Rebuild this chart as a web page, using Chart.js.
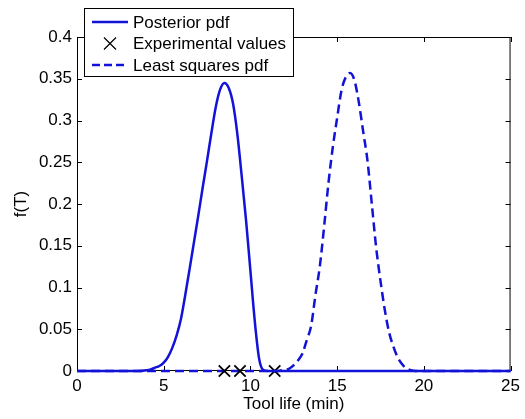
<!DOCTYPE html>
<html>
<head>
<meta charset="utf-8">
<script src="https://cdn.jsdelivr.net/npm/chart.js@4"></script>
<style>
html, body { margin: 0; padding: 0; background: #fff; }
#wrap { width: 525px; height: 419px; }
</style>
</head>
<body>
<div id="wrap"><canvas id="lifeChart"></canvas></div>
<script>
// posterior pdf (solid line)
const postX = [0, 1, 2, 3, 3.5, 4, 4.25, 4.5, 4.75, 5, 5.25, 5.5, 5.75, 6, 6.25, 6.5, 6.75, 7, 7.25, 7.5, 7.75, 8, 8.25, 8.5, 8.75, 9, 9.25, 9.5, 9.75, 10, 10.25, 10.5, 10.75, 11, 12, 15, 20, 25];
const postY = [0, 0, 0, 0, 0, 0.001, 0.002, 0.004, 0.006, 0.010, 0.017, 0.028, 0.043, 0.063, 0.092, 0.123, 0.155, 0.187, 0.220, 0.252, 0.285, 0.316, 0.337, 0.345, 0.339, 0.320, 0.283, 0.233, 0.180, 0.120, 0.060, 0.015, 0.001, 0, 0, 0, 0, 0];

// least squares pdf (dashed line)
const lsX = [0, 5, 10, 11.5, 11.75, 12, 12.25, 12.5, 12.75, 13, 13.25, 13.5, 13.75, 14, 14.25, 14.5, 14.75, 15, 15.25, 15.5, 15.75, 16, 16.25, 16.5, 16.75, 17, 17.25, 17.5, 17.75, 18, 18.25, 18.5, 18.75, 19, 19.25, 19.5, 20, 25];
const lsY = [0, 0, 0, 0, 0.0005, 0.001, 0.003, 0.007, 0.013, 0.021, 0.037, 0.054, 0.091, 0.125, 0.173, 0.225, 0.268, 0.303, 0.336, 0.352, 0.357, 0.348, 0.322, 0.287, 0.252, 0.200, 0.148, 0.108, 0.073, 0.046, 0.029, 0.016, 0.008, 0.003, 0.001, 0, 0, 0];

// experimental values (crosses on the axis)
const expX = [8.5, 9.4, 11.4];

const xTicks = [0, 5, 10, 15, 20, 25];
const yTicks = [0, 0.05, 0.1, 0.15, 0.2, 0.25, 0.3, 0.35, 0.4];

const lineBlue = '#1212d8';
const font = 'Liberation Sans, Arial, sans-serif';

const toPts = (xs, ys) => xs.map((x, i) => ({ x: x, y: ys[i] }));

// matlab style box with inward ticks
const frame = {
    id: 'frame',
    beforeDatasetsDraw(chart) {
        const ctx = chart.ctx;
        const a = chart.chartArea;
        const xs = chart.scales.x, ys = chart.scales.y;
        ctx.save();
        ctx.strokeStyle = '#000';
        ctx.lineWidth = 1;
        ctx.strokeRect(a.left + 0.5, a.top + 0.5, a.right - a.left - 1, a.bottom - a.top - 1);
        ctx.beginPath();
        xTicks.forEach(v => {
            const p = Math.round(xs.getPixelForValue(v)) + 0.5;
            ctx.moveTo(p, a.bottom); ctx.lineTo(p, a.bottom - 5);
            ctx.moveTo(p, a.top); ctx.lineTo(p, a.top + 5);
        });
        yTicks.forEach(v => {
            const p = Math.round(ys.getPixelForValue(v)) + 0.5;
            ctx.moveTo(a.left, p); ctx.lineTo(a.left + 5, p);
            ctx.moveTo(a.right, p); ctx.lineTo(a.right - 5, p);
        });
        ctx.stroke();
        ctx.restore();
    }
};

// boxed legend at top left
const boxLegend = {
    id: 'boxLegend',
    afterDraw(chart) {
        const ctx = chart.ctx;
        const left = 84, top = 8, w = 209, h = 68;
        const rows = [
            { label: 'Posterior pdf', kind: 'solid' },
            { label: 'Experimental values', kind: 'cross' },
            { label: 'Least squares pdf', kind: 'dash' }
        ];
        ctx.save();
        ctx.fillStyle = '#fff';
        ctx.fillRect(left, top, w, h);
        ctx.strokeStyle = '#000';
        ctx.lineWidth = 1;
        ctx.strokeRect(left + 0.5, top + 0.5, w, h);
        ctx.font = '17px ' + font;
        ctx.textBaseline = 'middle';
        rows.forEach((r, i) => {
            const y = top + 14 + i * 21.5;
            ctx.strokeStyle = r.kind === 'cross' ? '#000' : lineBlue;
            ctx.lineWidth = r.kind === 'cross' ? 1.2 : 2.5;
            ctx.beginPath();
            if (r.kind === 'cross') {
                const cx = 110, d = 6;
                ctx.moveTo(cx - d, y - d); ctx.lineTo(cx + d, y + d);
                ctx.moveTo(cx - d, y + d); ctx.lineTo(cx + d, y - d);
            } else {
                if (r.kind === 'dash') ctx.setLineDash([8, 4]);
                ctx.moveTo(92, y); ctx.lineTo(128, y);
            }
            ctx.stroke();
            ctx.setLineDash([]);
            ctx.fillStyle = '#000';
            ctx.fillText(r.label, 133, y + 1);
        });
        ctx.restore();
    }
};

const lifeChart = new Chart(document.getElementById('lifeChart'), {
    type: 'scatter',
    data: {
        datasets: [{
            label: 'Posterior pdf',
            data: toPts(postX, postY),
            showLine: true,
            borderColor: lineBlue,
            borderWidth: 2.5,
            pointRadius: 0,
            cubicInterpolationMode: 'monotone',
            clip: false
        }, {
            label: 'Experimental values',
            data: expX.map(x => ({ x: x, y: 0 })),
            showLine: false,
            pointStyle: 'crossRot',
            pointRadius: 8,
            borderColor: '#000',
            backgroundColor: '#000',
            pointBorderWidth: 1.8,
            clip: false
        }, {
            label: 'Least squares pdf',
            data: toPts(lsX, lsY),
            showLine: true,
            borderColor: lineBlue,
            borderWidth: 2.5,
            borderDash: [9, 5],
            pointRadius: 0,
            cubicInterpolationMode: 'monotone',
            clip: false
        }]
    },
    options: {
        responsive: true,
        maintainAspectRatio: false,
        animation: false,
        events: [],
        layout: { padding: { top: 37, right: 13, left: 0, bottom: 0 } },
        plugins: {
            legend: { display: false },
            tooltip: { enabled: false }
        },
        scales: {
            x: {
                type: 'linear',
                min: 0,
                max: 25,
                afterFit: s => { s.height = 48; },
                afterBuildTicks: s => { s.ticks = xTicks.map(v => ({ value: v })); },
                grid: { display: false, drawTicks: false, tickLength: 0 },
                border: { display: false },
                ticks: { color: '#000', padding: 5, maxRotation: 0, font: { family: font, size: 17 } },
                title: { display: true, text: 'Tool life (min)', color: '#000', padding: { top: 0, bottom: 4 }, font: { family: font, size: 17 } }
            },
            y: {
                type: 'linear',
                min: 0,
                max: 0.4,
                afterFit: s => { s.width = 77; },
                afterBuildTicks: s => { s.ticks = yTicks.map(v => ({ value: v })); },
                grid: { display: false, drawTicks: false, tickLength: 0 },
                border: { display: false },
                ticks: {
                    color: '#000',
                    padding: 5,
                    font: { family: font, size: 17 },
                    callback: v => String(Number(v.toFixed(2)))
                },
                title: { display: true, text: 'f(T)', color: '#000', padding: { top: 11, bottom: 0 }, font: { family: font, size: 17 } }
            }
        }
    },
    plugins: [frame, boxLegend]
});
</script>
</body>
</html>
